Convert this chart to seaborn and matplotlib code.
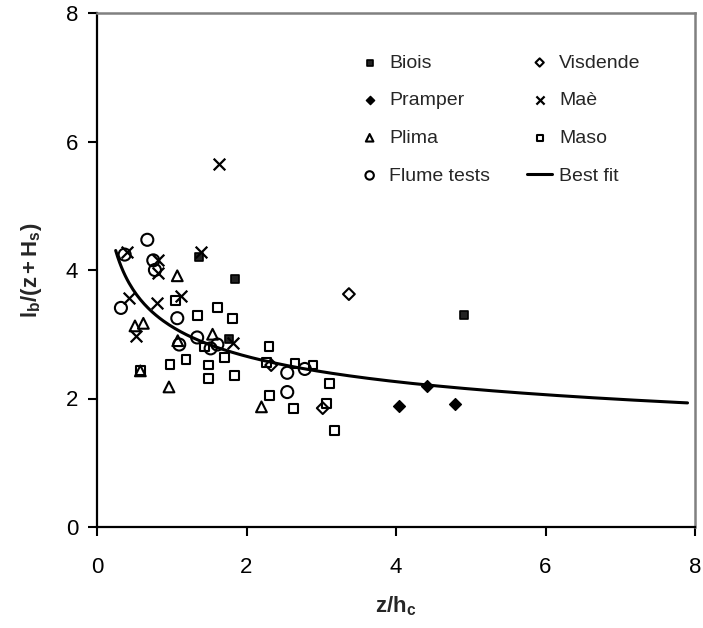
import numpy as np
import pandas as pd
import matplotlib
matplotlib.use("Agg")
import matplotlib.pyplot as plt
import seaborn as sns

# ---- data ----
biois_x = [1.36, 1.845, 1.77, 4.91]
biois_y = [4.20, 3.86, 2.92, 3.30]

pramper_x = [4.04, 4.41, 4.79]
pramper_y = [1.88, 2.19, 1.91]

visdende_x = [3.37, 2.33, 3.02]
visdende_y = [3.625, 2.52, 1.85]

mae_x = [0.397, 0.82, 0.81, 1.39, 1.13, 0.432, 0.807, 0.52, 1.82, 1.63]
mae_y = [4.28, 4.15, 3.96, 4.28, 3.59, 3.56, 3.48, 2.98, 2.87, 5.65]

plima_x = [1.074, 0.508, 0.62, 1.546, 1.08, 0.58, 0.963, 2.20]
plima_y = [3.91, 3.13, 3.17, 3.00, 2.90, 2.43, 2.18, 1.87]

flume_x = [0.673, 0.37, 0.753, 0.775, 0.32, 1.074, 1.34, 1.10, 1.52, 1.61, 2.545, 2.545, 2.78]
flume_y = [4.47, 4.24, 4.15, 4.00, 3.41, 3.25, 2.95, 2.84, 2.78, 2.84, 2.40, 2.10, 2.46]

maso_x = [1.05, 1.61, 1.346, 1.81, 1.435, 1.71, 1.19, 1.49, 0.976, 0.584, 1.84,
          1.49, 2.30, 2.27, 2.31, 2.63, 2.65, 2.89, 3.11, 3.07, 3.18]
maso_y = [3.52, 3.42, 3.29, 3.245, 2.80, 2.64, 2.61, 2.52, 2.53, 2.43, 2.36,
          2.31, 2.81, 2.56, 2.05, 1.85, 2.55, 2.52, 2.23, 1.92, 1.505]

# best-fit power law  y = a * x^b
fit_a = 3.12
fit_b = -0.232
fit_xmin, fit_xmax = 0.25, 7.9

x_ticks = [0, 2, 4, 6, 8]
y_ticks = [0, 2, 4, 6, 8]

# ---- style ----
sns.set_style("ticks")
plt.rcParams['font.family'] = ['Liberation Sans', 'DejaVu Sans']
plt.rcParams['mathtext.fontset'] = 'custom'
plt.rcParams['mathtext.rm'] = 'Liberation Sans'
plt.rcParams['mathtext.it'] = 'Liberation Sans:italic'
plt.rcParams['mathtext.bf'] = 'Liberation Sans:bold'

fig = plt.figure(figsize=(7.03, 6.28), dpi=100)
ax = fig.add_axes([97/703, 1 - 527/628, (695 - 97)/703, (527 - 13)/628])

def frame(xs, ys, name):
    return pd.DataFrame({"x": xs, "y": ys, "site": name})

sns.scatterplot(data=frame(biois_x, biois_y, 'Biois'), x="x", y="y", marker='s', s=36,
                facecolor='#222222', edgecolor='black', linewidth=1.2, ax=ax, label='Biois', zorder=3)
sns.scatterplot(data=frame(pramper_x, pramper_y, 'Pramper'), x="x", y="y", marker='D', s=36,
                facecolor='black', edgecolor='black', linewidth=1.0, ax=ax, label='Pramper', zorder=3)
sns.scatterplot(data=frame(plima_x, plima_y, 'Plima'), x="x", y="y", marker='^', s=60,
                facecolor='none', edgecolor='black', linewidth=1.5, ax=ax, label='Plima', zorder=3)
sns.scatterplot(data=frame(flume_x, flume_y, 'Flume tests'), x="x", y="y", marker='o', s=75,
                facecolor='none', edgecolor='black', linewidth=1.5, ax=ax, label='Flume tests', zorder=3)
sns.scatterplot(data=frame(visdende_x, visdende_y, 'Visdende'), x="x", y="y", marker='D', s=36,
                facecolor='none', edgecolor='black', linewidth=1.5, ax=ax, label='Visdende', zorder=3)
sns.scatterplot(data=frame(mae_x, mae_y, 'Maè'), x="x", y="y", marker='x', s=70,
                color='black', linewidth=1.6, ax=ax, label='Maè', zorder=3)
sns.scatterplot(data=frame(maso_x, maso_y, 'Maso'), x="x", y="y", marker='s', s=40,
                facecolor='none', edgecolor='black', linewidth=1.5, ax=ax, label='Maso', zorder=3)

fx = np.linspace(fit_xmin, fit_xmax, 300)
fit_df = pd.DataFrame({"x": fx, "y": fit_a * fx ** fit_b})
sns.lineplot(data=fit_df, x="x", y="y", color='black', linewidth=2.2, ax=ax, label='Best fit', zorder=2)

ax.set_xlim(0, 8)
ax.set_ylim(0, 8)
ax.set_xticks(x_ticks)
ax.set_yticks(y_ticks)
ax.set_xticklabels([str(t) for t in x_ticks])
ax.set_yticklabels([str(t) for t in y_ticks])
ax.tick_params(axis='both', direction='out', length=6.5, width=1.5, labelsize=16, colors='black')
ax.tick_params(axis='x', pad=15)
ax.tick_params(axis='y', pad=7)

for s in ['left', 'bottom']:
    ax.spines[s].set_color('black')
    ax.spines[s].set_linewidth(1.6)
for s in ['top', 'right']:
    ax.spines[s].set_visible(True)
    ax.spines[s].set_color('#808080')
    ax.spines[s].set_linewidth(1.8)

ax.set_xlabel(r'$\mathbf{z/h_c}$', fontsize=16, labelpad=12)
ax.set_ylabel(r'$\mathbf{l_b/(z+H_s)}$', fontsize=16, labelpad=16)

handles, labels = ax.get_legend_handles_labels()
order = ['Biois', 'Pramper', 'Plima', 'Flume tests', 'Visdende', 'Maè', 'Maso', 'Best fit']
hd = dict(zip(labels, handles))
leg = ax.legend([hd[k] for k in order], order, ncol=2, frameon=False, fontsize=14,
                loc='upper left', bbox_to_anchor=(357/703, 1 - 54/628), bbox_transform=fig.transFigure,
                handlelength=1.3, handletextpad=0.35, columnspacing=1.9, labelspacing=1.03,
                markerscale=0.7, borderpad=0, borderaxespad=0)

fig.savefig('out.png', dpi=100)
